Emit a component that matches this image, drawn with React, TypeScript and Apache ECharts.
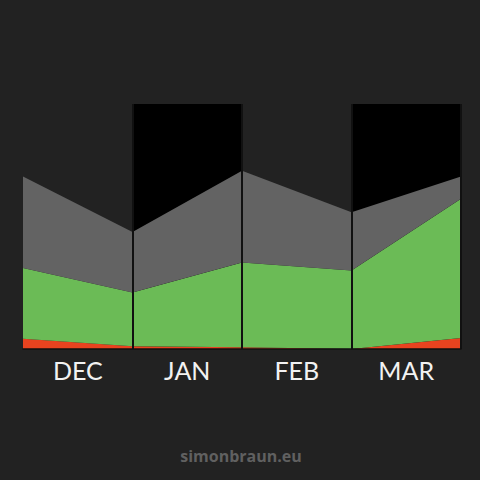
import React, { useEffect, useRef } from "react";
import * as echarts from "echarts";

const months = ["DEC", "JAN", "FEB", "MAR"];
// values at the month boundaries (start of DEC ... end of MAR)
const boundaries = ["", "", "", "", ""];
const redValues = [4.2, 1.1, 0.7, 0, 4.5];
const greenValues = [28.9, 22.0, 34.6, 32.0, 56.8];
const grayValues = [37.3, 24.7, 37.5, 23.8, 9.1];
// highlighted months (black backdrop)
const highlight = ["-", 100, "-", 100];

const BG = "#222222";

const App: React.FC = () => {
  const chartRef = useRef<HTMLDivElement>(null);

  useEffect(() => {
    if (!chartRef.current) return;
    const chart = echarts.init(chartRef.current, null, { renderer: "svg" });

    const areaSeries = (name: string, data: number[], color: string) => ({
      name,
      type: "line",
      xAxisIndex: 1,
      stack: "total",
      data,
      showSymbol: false,
      symbol: "none",
      lineStyle: { width: 0 },
      areaStyle: { color, opacity: 1 },
      z: 3,
    });

    chart.setOption({
      animation: false,
      backgroundColor: BG,
      grid: { left: 23, right: 19, top: 104, bottom: 131 },
      xAxis: [
        {
          type: "category",
          data: months,
          boundaryGap: true,
          z: 10,
          axisLine: { show: true, lineStyle: { color: "#111111", width: 1.5 } },
          axisTick: { show: false },
          splitLine: {
            show: true,
            showMinLine: false,
            lineStyle: { color: "#111111", width: 2 },
          },
          axisLabel: {
            color: "#f2f2f2",
            fontSize: 25,
            fontFamily: "Lato",
            fontWeight: 400,
            margin: 8,
          },
        },
        {
          type: "category",
          data: boundaries,
          boundaryGap: false,
          show: false,
        },
      ],
      yAxis: {
        type: "value",
        min: 0,
        max: 100,
        show: false,
        splitLine: { show: false },
      },
      series: [
        {
          type: "bar",
          xAxisIndex: 0,
          data: highlight,
          barWidth: "100%",
          itemStyle: { color: "#000000" },
          silent: true,
          z: 1,
        },
        areaSeries("red", redValues, "#e8431f"),
        areaSeries("green", greenValues, "#6bbb56"),
        areaSeries("gray", grayValues, "#636363"),
      ],
      graphic: [
        {
          type: "text",
          x: 241,
          y: 456,
          style: {
            text: "simonbraun.eu",
            fill: "#606060",
            fontSize: 16,
            fontWeight: "bold",
            fontFamily: "Open Sans",
            textAlign: "center",
            textVerticalAlign: "middle",
          },
        },
      ],
    });

    return () => {
      chart.dispose();
    };
  }, []);

  return (
    <div
      ref={chartRef}
      style={{ position: "fixed", left: 0, top: 0, width: 480, height: 480 }}
    />
  );
};

export default App;
